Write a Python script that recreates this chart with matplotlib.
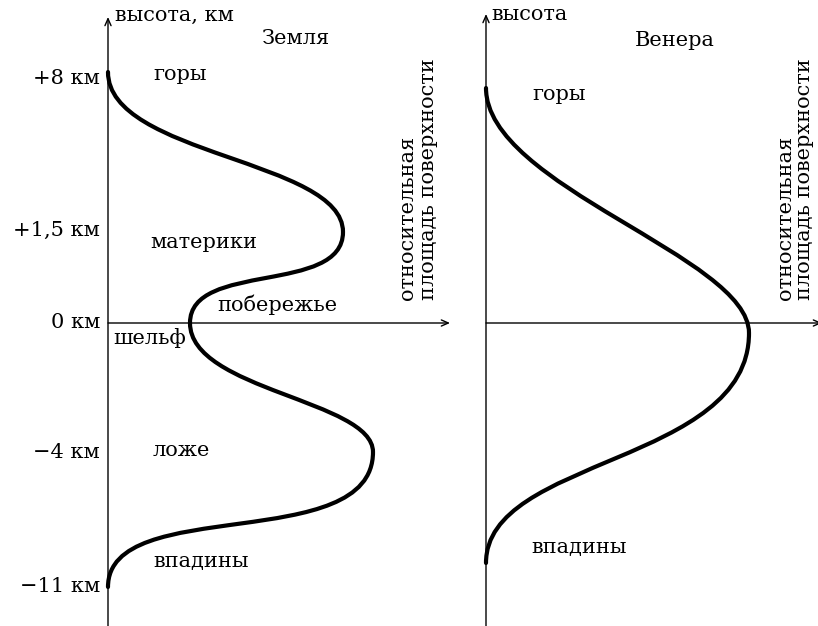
import matplotlib
matplotlib.use("Agg")
import matplotlib.pyplot as plt
from matplotlib.path import Path
from matplotlib.patches import PathPatch

plt.rcParams['font.family'] = ['DejaVu Serif']

# схематичная шкала высот: 1 единица ~ 100 px, 0 = уровень моря
tick_pos = [2.45, 0.93, 0.0, -1.29, -2.64]
tick_labels = ['+8 км', '+1,5 км', '0 км', '\u22124 км', '\u221211 км']

# Земля: опорные точки кривой (начало, максимумы/минимумы, конец)
earth_area = [0.00, 2.35, 0.82, 2.65, 0.00]
earth_level = [2.51, 0.91, 0.00, -1.29, -2.64]
# длина "ручек" Безье (доля перепада высоты) на выходе и на входе каждого участка
earth_out = [0.52, 0.69, 0.52, 0.77]
earth_in = [0.45, 0.68, 0.40, 0.69]

# Венера
venus_area = [0.00, 2.63, 0.00]
venus_level = [2.35, -0.10, -2.40]
venus_out = [0.40, 0.57]
venus_in = [0.31, 0.46]

earth_regions = ['горы', 'материки', 'побережье', 'шельф', 'ложе', 'впадины']
earth_region_x = [0.72, 0.96, 1.69, 0.42, 0.73, 0.93]
earth_region_y = [2.48, 0.81, 0.18, -0.15, -1.27, -2.39]

venus_regions = ['горы', 'впадины']
venus_region_x = [0.73, 0.93]
venus_region_y = [2.28, -2.25]


def curve_path(xs, ys, f_out, f_in):
    # вертикальные касательные в опорных точках, как в TikZ (out=-90, in=90)
    verts = [(xs[0], ys[0])]
    codes = [Path.MOVETO]
    for i in range(len(xs) - 1):
        dy = ys[i + 1] - ys[i]
        verts += [(xs[i], ys[i] + f_out[i] * dy),
                  (xs[i + 1], ys[i + 1] - f_in[i] * dy),
                  (xs[i + 1], ys[i + 1])]
        codes += [Path.CURVE4] * 3
    return Path(verts, codes)


W, H = 818, 626
fig = plt.figure(figsize=(W / 100, H / 100), dpi=100)
ymin, ymax = (323 - H) / 100, 323 / 100

ax1 = fig.add_axes([108 / W, 0, 350 / W, 1])
ax1.set_xlim(0, 3.5)
ax2 = fig.add_axes([486 / W, 0, 332 / W, 1])
ax2.set_xlim(0, 3.32)

arrow = dict(arrowstyle='->,head_length=0.5,head_width=0.22', lw=1.0, color='black',
             shrinkA=0, shrinkB=0)
fs = 15

for ax, top, right in [(ax1, 3.06, 3.42), (ax2, 3.09, 3.36)]:
    ax.set_ylim(ymin, ymax)
    ax.axis('off')
    ax.annotate('', xy=(0, top), xytext=(0, ymin), arrowprops=arrow, annotation_clip=False)
    ax.annotate('', xy=(right, 0), xytext=(0, 0), arrowprops=arrow, annotation_clip=False)

ax1.add_patch(PathPatch(curve_path(earth_area, earth_level, earth_out, earth_in),
                        fill=False, lw=3, edgecolor='black', capstyle='round', clip_on=False))
ax2.add_patch(PathPatch(curve_path(venus_area, venus_level, venus_out, venus_in),
                        fill=False, lw=3, edgecolor='black', capstyle='round', clip_on=False))

for p, lab in zip(tick_pos, tick_labels):
    ax1.text(-0.08, p, lab, ha='right', va='center', fontsize=fs, clip_on=False)

ax1.text(0.07, 3.08, 'высота, км', ha='left', va='center', fontsize=fs)
ax1.text(1.88, 2.85, 'Земля', ha='center', va='center', fontsize=fs)
for lab, x, y in zip(earth_regions, earth_region_x, earth_region_y):
    ax1.text(x, y, lab, ha='center', va='center', fontsize=fs)
ax1.text(2.99, 0.23, 'относительная', rotation=90, ha='center', va='bottom', fontsize=fs)
ax1.text(3.21, 0.23, 'площадь поверхности', rotation=90, ha='center', va='bottom', fontsize=fs)

ax2.text(0.05, 3.08, 'высота', ha='left', va='center', fontsize=fs)
ax2.text(1.89, 2.83, 'Венера', ha='center', va='center', fontsize=fs)
for lab, x, y in zip(venus_regions, venus_region_x, venus_region_y):
    ax2.text(x, y, lab, ha='center', va='center', fontsize=fs)
ax2.text(2.99, 0.23, 'относительная', rotation=90, ha='center', va='bottom', fontsize=fs)
ax2.text(3.19, 0.23, 'площадь поверхности', rotation=90, ha='center', va='bottom', fontsize=fs)

fig.savefig('out.png', dpi=100)
